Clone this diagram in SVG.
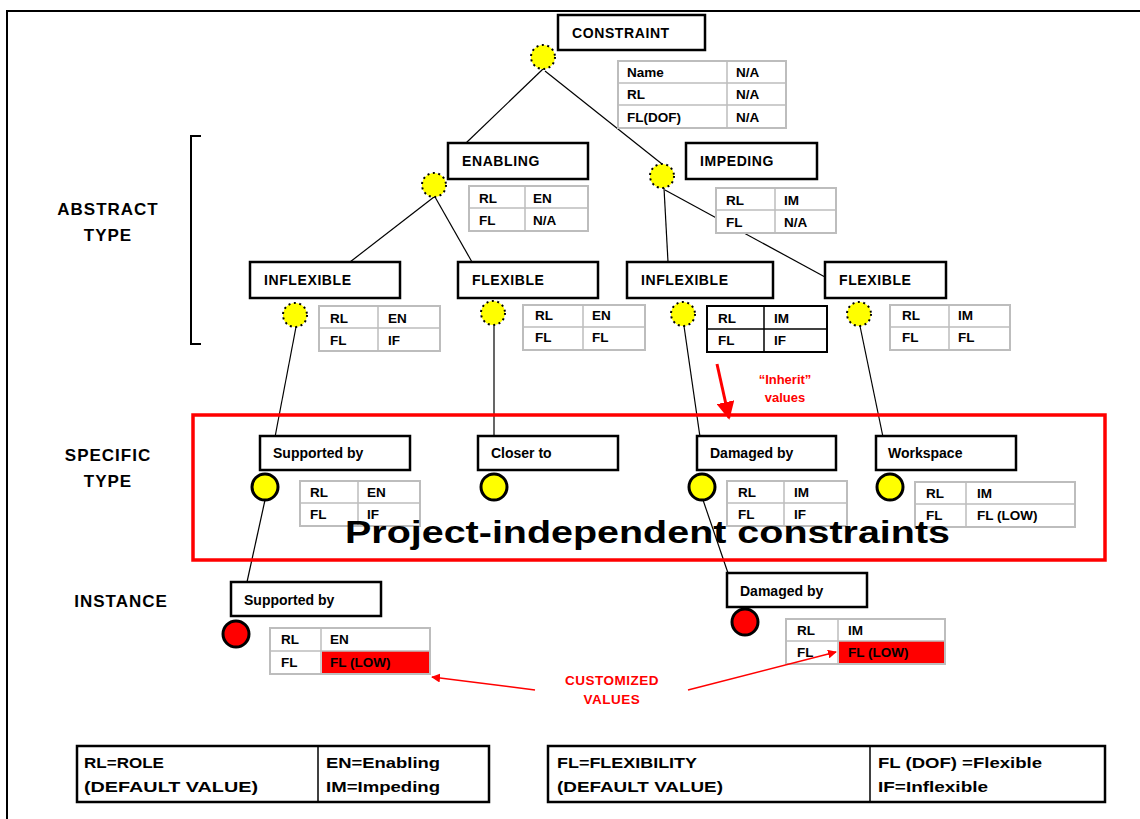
<svg xmlns="http://www.w3.org/2000/svg" width="1140" height="819" viewBox="0 0 1140 819">
  <style>
    text { font-family: "Liberation Sans", Arial, sans-serif; font-weight: bold; fill: #000; }
    .hd { font-size: 14px; letter-spacing: 0.6px; }
    .nm { font-size: 14px; }
    .cell { font-size: 13.5px; }
    .side { font-size: 17px; letter-spacing: 1px; text-anchor: middle; }
    .red { fill: #ff0000; }
    .box { fill: #fff; stroke: #000; stroke-width: 2.5; }
    .tbl { fill: #fff; stroke: #bdbdbd; stroke-width: 2; }
    .tblb { fill: #fff; stroke: #000; stroke-width: 2; }
    .grid { stroke: #bdbdbd; stroke-width: 1.5; }
    .gridb { stroke: #000; stroke-width: 1.5; }
    .dot { fill: #ffff00; stroke: #000; stroke-width: 2; stroke-dasharray: 2 3.5; }
    .ylw { fill: #ffff00; stroke: #000; stroke-width: 3; }
    .inst { fill: #ff0000; stroke: #000; stroke-width: 3; }
    .edge { stroke: #000; stroke-width: 1.2; fill: none; }
    .legend { fill: #fff; stroke: #000; stroke-width: 2.5; }
    .lg { font-size: 15px; }
  </style>
  <defs>
    <marker id="redhead" viewBox="0 0 10 10" refX="9" refY="5" markerWidth="6" markerHeight="6" orient="auto">
      <path d="M0,0 L10,5 L0,10 z" fill="#ff0000"/>
    </marker>
  </defs>

  <rect x="0" y="0" width="1140" height="819" fill="#fff"/>
  <!-- outer frame -->
  <path d="M7,819 L7,11 L1140,11" fill="none" stroke="#000" stroke-width="2"/>

  <!-- tree connectors -->
  <g id="connectors">
    <line class="edge" x1="543" y1="69" x2="466" y2="143"/>
    <line class="edge" x1="545" y1="71" x2="662" y2="164"/>
    <line class="edge" x1="434" y1="197" x2="350" y2="262"/>
    <line class="edge" x1="435" y1="197" x2="472" y2="262"/>
    <line class="edge" x1="664" y1="188" x2="668" y2="262"/>
    <line class="edge" x1="665" y1="190" x2="825" y2="277"/>
    <line class="edge" x1="296" y1="327" x2="275" y2="437"/>
    <line class="edge" x1="494" y1="326" x2="494" y2="437"/>
    <line class="edge" x1="684" y1="326" x2="700" y2="437"/>
    <line class="edge" x1="860" y1="326" x2="883" y2="437"/>
    <line class="edge" x1="265" y1="500" x2="247" y2="582"/>
    <line class="edge" x1="703" y1="500" x2="728" y2="573"/>
  </g>

  <!-- level labels -->
  <g id="labels">
    <text class="side" x="108" y="215">ABSTRACT</text>
    <text class="side" x="108" y="241">TYPE</text>
    <text class="side" x="108" y="461">SPECIFIC</text>
    <text class="side" x="108" y="487">TYPE</text>
    <text class="side" x="121" y="607">INSTANCE</text>
    <path d="M201,136 L191,136 L191,344 L201,344" fill="none" stroke="#000" stroke-width="2"/>
  </g>

  <!-- project-independent region -->
  <g id="region">
    <rect x="193" y="415" width="912" height="145" fill="none" stroke="#ff0000" stroke-width="3.5"/>
  </g>

  <!-- root -->
  <g id="constraint">
    <circle class="dot" cx="543" cy="57" r="12"/>
    <rect class="box" x="558" y="15" width="147" height="35"/>
    <text class="hd" x="572" y="38">CONSTRAINT</text>
    <rect class="tbl" x="618" y="61" width="168" height="67"/>
    <line class="grid" x1="618" y1="83" x2="786" y2="83"/>
    <line class="grid" x1="618" y1="105" x2="786" y2="105"/>
    <line class="grid" x1="727" y1="61" x2="727" y2="128"/>
    <text class="cell" x="627" y="77">Name</text><text class="cell" x="736" y="77">N/A</text>
    <text class="cell" x="627" y="99">RL</text><text class="cell" x="736" y="99">N/A</text>
    <text class="cell" x="627" y="122">FL(DOF)</text><text class="cell" x="736" y="122">N/A</text>
  </g>

  <!-- abstract level 1 -->
  <g id="enabling">
    <circle class="dot" cx="434" cy="185" r="12"/>
    <rect class="box" x="448" y="143" width="140" height="36"/>
    <text class="hd" x="462" y="166">ENABLING</text>
    <rect class="tbl" x="469" y="186" width="119" height="45"/>
    <line class="grid" x1="469" y1="208" x2="588" y2="208"/>
    <line class="grid" x1="525" y1="186" x2="525" y2="231"/>
    <text class="cell" x="479" y="203">RL</text><text class="cell" x="533" y="203">EN</text>
    <text class="cell" x="479" y="225">FL</text><text class="cell" x="533" y="225">N/A</text>
  </g>
  <g id="impeding">
    <circle class="dot" cx="662" cy="176" r="12"/>
    <rect class="box" x="686" y="143" width="131" height="36"/>
    <text class="hd" x="700" y="166">IMPEDING</text>
    <rect class="tbl" x="716" y="188" width="120" height="45"/>
    <line class="grid" x1="716" y1="210" x2="836" y2="210"/>
    <line class="grid" x1="775" y1="188" x2="775" y2="233"/>
    <text class="cell" x="726" y="205">RL</text><text class="cell" x="784" y="205">IM</text>
    <text class="cell" x="726" y="227">FL</text><text class="cell" x="784" y="227">N/A</text>
  </g>

  <!-- abstract level 2 -->
  <g id="en-inflexible">
    <circle class="dot" cx="295" cy="315" r="12"/>
    <rect class="box" x="250" y="262" width="150" height="36"/>
    <text class="hd" x="264" y="285">INFLEXIBLE</text>
    <rect class="tbl" x="319" y="306" width="121" height="45"/>
    <line class="grid" x1="319" y1="328" x2="440" y2="328"/>
    <line class="grid" x1="378" y1="306" x2="378" y2="351"/>
    <text class="cell" x="330" y="323">RL</text><text class="cell" x="388" y="323">EN</text>
    <text class="cell" x="330" y="345">FL</text><text class="cell" x="388" y="345">IF</text>
  </g>
  <g id="en-flexible">
    <circle class="dot" cx="493" cy="313" r="12"/>
    <rect class="box" x="458" y="262" width="140" height="36"/>
    <text class="hd" x="472" y="285">FLEXIBLE</text>
    <rect class="tbl" x="523" y="305" width="122" height="45"/>
    <line class="grid" x1="523" y1="327" x2="645" y2="327"/>
    <line class="grid" x1="583" y1="305" x2="583" y2="350"/>
    <text class="cell" x="535" y="320">RL</text><text class="cell" x="592" y="320">EN</text>
    <text class="cell" x="535" y="342">FL</text><text class="cell" x="592" y="342">FL</text>
  </g>
  <g id="im-inflexible">
    <circle class="dot" cx="683" cy="314" r="12"/>
    <rect class="box" x="627" y="262" width="146" height="36"/>
    <text class="hd" x="641" y="285">INFLEXIBLE</text>
    <rect class="tblb" x="707" y="306" width="120" height="46"/>
    <line class="gridb" x1="707" y1="329" x2="827" y2="329"/>
    <line class="gridb" x1="764" y1="306" x2="764" y2="352"/>
    <text class="cell" x="718" y="323">RL</text><text class="cell" x="774" y="323">IM</text>
    <text class="cell" x="718" y="345">FL</text><text class="cell" x="774" y="345">IF</text>
  </g>
  <g id="im-flexible">
    <circle class="dot" cx="859" cy="314" r="12"/>
    <rect class="box" x="825" y="262" width="121" height="36"/>
    <text class="hd" x="839" y="285">FLEXIBLE</text>
    <rect class="tbl" x="890" y="305" width="120" height="45"/>
    <line class="grid" x1="890" y1="327" x2="1010" y2="327"/>
    <line class="grid" x1="949" y1="305" x2="949" y2="350"/>
    <text class="cell" x="902" y="320">RL</text><text class="cell" x="958" y="320">IM</text>
    <text class="cell" x="902" y="342">FL</text><text class="cell" x="958" y="342">FL</text>
  </g>

  <!-- inherit note -->
  <g id="inherit-note">
    <text class="red" x="785" y="384" font-size="13" text-anchor="middle">“Inherit”</text>
    <text class="red" x="785" y="402" font-size="13" text-anchor="middle">values</text>
  </g>

  <!-- specific types -->
  <g id="spec-supported">
    <rect class="box" x="260" y="436" width="150" height="34"/>
    <text class="nm" x="273" y="458">Supported by</text>
    <circle class="ylw" cx="265" cy="487" r="13"/>
    <rect class="tbl" x="300" y="481" width="120" height="45"/>
    <line class="grid" x1="300" y1="503" x2="420" y2="503"/>
    <line class="grid" x1="358" y1="481" x2="358" y2="526"/>
    <text class="cell" x="310" y="497">RL</text><text class="cell" x="367" y="497">EN</text>
    <text class="cell" x="310" y="519">FL</text><text class="cell" x="367" y="519">IF</text>
  </g>
  <g id="spec-closer">
    <rect class="box" x="478" y="436" width="140" height="34"/>
    <text class="nm" x="491" y="458">Closer to</text>
    <circle class="ylw" cx="494" cy="487" r="13"/>
  </g>
  <g id="spec-damaged">
    <rect class="box" x="697" y="436" width="139" height="34"/>
    <text class="nm" x="710" y="458">Damaged by</text>
    <circle class="ylw" cx="702" cy="487" r="13"/>
    <rect class="tbl" x="727" y="481" width="120" height="45"/>
    <line class="grid" x1="727" y1="503" x2="847" y2="503"/>
    <line class="grid" x1="784" y1="481" x2="784" y2="526"/>
    <text class="cell" x="738" y="497">RL</text><text class="cell" x="794" y="497">IM</text>
    <text class="cell" x="738" y="519">FL</text><text class="cell" x="794" y="519">IF</text>
  </g>
  <g id="spec-workspace">
    <rect class="box" x="876" y="436" width="140" height="34"/>
    <text class="nm" x="888" y="458">Workspace</text>
    <circle class="ylw" cx="890" cy="487" r="13"/>
    <rect class="tbl" x="915" y="482" width="160" height="45"/>
    <line class="grid" x1="915" y1="504" x2="1075" y2="504"/>
    <line class="grid" x1="966" y1="482" x2="966" y2="527"/>
    <text class="cell" x="926" y="498">RL</text><text class="cell" x="977" y="498">IM</text>
    <text class="cell" x="926" y="520">FL</text><text class="cell" x="977" y="520">FL (LOW)</text>
  </g>

  <text x="345" y="543" font-size="32" textLength="605" lengthAdjust="spacingAndGlyphs">Project-independent constraints</text>

  <!-- instances -->
  <g id="inst-supported">
    <rect class="box" x="231" y="582" width="150" height="34"/>
    <text class="nm" x="244" y="605">Supported by</text>
    <circle class="inst" cx="236" cy="634" r="13"/>
    <rect class="tbl" x="270" y="628" width="160" height="46"/>
    <rect x="322" y="651" width="107" height="22" fill="#ff0000"/>
    <line class="grid" x1="270" y1="651" x2="430" y2="651"/>
    <line class="grid" x1="321" y1="628" x2="321" y2="674"/>
    <text class="cell" x="281" y="644">RL</text><text class="cell" x="330" y="644">EN</text>
    <text class="cell" x="281" y="667">FL</text><text class="cell" x="330" y="667">FL (LOW)</text>
  </g>
  <g id="inst-damaged">
    <rect class="box" x="727" y="573" width="140" height="34"/>
    <text class="nm" x="740" y="596">Damaged by</text>
    <circle class="inst" cx="745" cy="622" r="13"/>
    <rect class="tbl" x="786" y="619" width="159" height="45"/>
    <rect x="839" y="641" width="105" height="22" fill="#ff0000"/>
    <line class="grid" x1="786" y1="641" x2="945" y2="641"/>
    <line class="grid" x1="838" y1="619" x2="838" y2="664"/>
    <text class="cell" x="797" y="635">RL</text><text class="cell" x="848" y="635">IM</text>
    <text class="cell" x="797" y="657">FL</text><text class="cell" x="848" y="657">FL (LOW)</text>
  </g>

  <g id="customized-note">
    <text class="red" x="612" y="685" font-size="13.5" letter-spacing="0.5" text-anchor="middle">CUSTOMIZED</text>
    <text class="red" x="612" y="704" font-size="13.5" letter-spacing="0.5" text-anchor="middle">VALUES</text>
  </g>

  <!-- red annotation arrows, drawn above the tables -->
  <g id="annotation-arrows">
    <line x1="717" y1="364" x2="729" y2="418" stroke="#ff0000" stroke-width="3" marker-end="url(#redhead)"/>
    <line x1="535" y1="690" x2="432" y2="677" stroke="#ff0000" stroke-width="1.5" marker-end="url(#redhead)"/>
    <line x1="688" y1="690" x2="836" y2="652" stroke="#ff0000" stroke-width="1.5" marker-end="url(#redhead)"/>
  </g>

  <!-- legend -->
  <g id="legend-role">
    <rect class="legend" x="77" y="746" width="412" height="56"/>
    <line x1="318" y1="746" x2="318" y2="802" stroke="#000" stroke-width="1.5"/>
    <text class="lg" x="84" y="768" textLength="80" lengthAdjust="spacingAndGlyphs">RL=ROLE</text>
    <text class="lg" x="84" y="792" textLength="174" lengthAdjust="spacingAndGlyphs">(DEFAULT VALUE)</text>
    <text class="lg" x="326" y="768" textLength="114" lengthAdjust="spacingAndGlyphs">EN=Enabling</text>
    <text class="lg" x="326" y="792" textLength="114" lengthAdjust="spacingAndGlyphs">IM=Impeding</text>
  </g>
  <g id="legend-flex">
    <rect class="legend" x="548" y="746" width="557" height="56"/>
    <line x1="870" y1="746" x2="870" y2="802" stroke="#000" stroke-width="1.5"/>
    <text class="lg" x="557" y="768" textLength="140" lengthAdjust="spacingAndGlyphs">FL=FLEXIBILITY</text>
    <text class="lg" x="557" y="792" textLength="166" lengthAdjust="spacingAndGlyphs">(DEFAULT VALUE)</text>
    <text class="lg" x="878" y="768" textLength="164" lengthAdjust="spacingAndGlyphs">FL (DOF) =Flexible</text>
    <text class="lg" x="878" y="792" textLength="110" lengthAdjust="spacingAndGlyphs">IF=Inflexible</text>
  </g>
</svg>
